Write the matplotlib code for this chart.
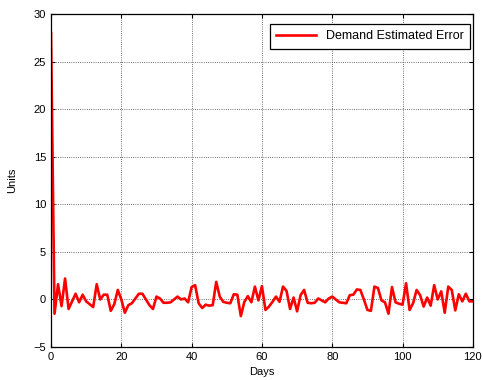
import numpy as np
import matplotlib.pyplot as plt

plt.rcParams["font.family"] = ["Liberation Sans", "DejaVu Sans"]

days = np.arange(0, 121)
error = [
    28.0, -1.5, 1.6, -0.7, 2.2, -1.0, -0.2, 0.6, -0.3, 0.5,
    -0.2, -0.5, -0.8, 1.6, 0.0, 0.5, 0.5, -1.2, -0.5, 1.0,
    0.0, -1.4, -0.6, -0.4, 0.1, 0.6, 0.6, 0.0, -0.6, -1.0,
    0.3, 0.1, -0.35, -0.35, -0.3, 0.0, 0.3, 0.0, 0.1, -0.3,
    1.3, 1.5, -0.4, -0.9, -0.55, -0.65, -0.6, 1.85, 0.3, -0.25,
    -0.35, -0.4, 0.55, 0.5, -1.75, -0.25, 0.35, -0.3, 1.35, -0.1,
    1.4, -1.1, -0.75, -0.25, 0.3, -0.25, 1.35, 0.9, -1.0, 0.2,
    -1.25, 0.45, 1.0, -0.35, -0.4, -0.35, 0.1, -0.1, -0.3, 0.1,
    0.3, 0.0, -0.3, -0.35, -0.4, 0.45, 0.5, 1.05, 1.0, 0.0,
    -1.1, -1.2, 1.35, 1.2, -0.1, -0.3, -1.5, 1.3, -0.3, -0.45,
    -0.55, 1.7, -1.1, -0.4, 1.0, 0.45, -0.75, 0.2, -0.65, 1.5,
    0.0, 0.85, -1.4, 1.35, 1.0, -1.15, 0.55, -0.2, 0.6, -0.2,
    -0.2,
]

fig = plt.figure(figsize=(4.83, 3.80), dpi=100)
ax = fig.add_axes([0.1056, 0.0868, 0.8734, 0.8762])

ax.plot(days, error, color="red", linewidth=1.9, label="Demand Estimated Error")

ax.set_xlim(0, 120)
ax.set_ylim(-5, 30)
ax.set_xticks(range(0, 121, 20))
ax.set_yticks(range(-5, 31, 5))
ax.grid(True, color="0.25", linestyle=":", linewidth=0.6)
ax.tick_params(direction="in", top=True, right=True, labelsize=8, length=3)
for s in ax.spines.values():
    s.set_linewidth(0.9)

ax.set_xlabel("Days", fontsize=8, labelpad=4)
ax.set_ylabel("Units", fontsize=8, labelpad=12)

leg = ax.legend(loc="upper right", bbox_to_anchor=(0.993, 0.970), borderaxespad=0,
                fontsize=9, fancybox=False, framealpha=1, edgecolor="black",
                handlelength=3.2, borderpad=0.5)
leg.get_frame().set_linewidth(0.9)

fig.savefig("out.png", dpi=100)
